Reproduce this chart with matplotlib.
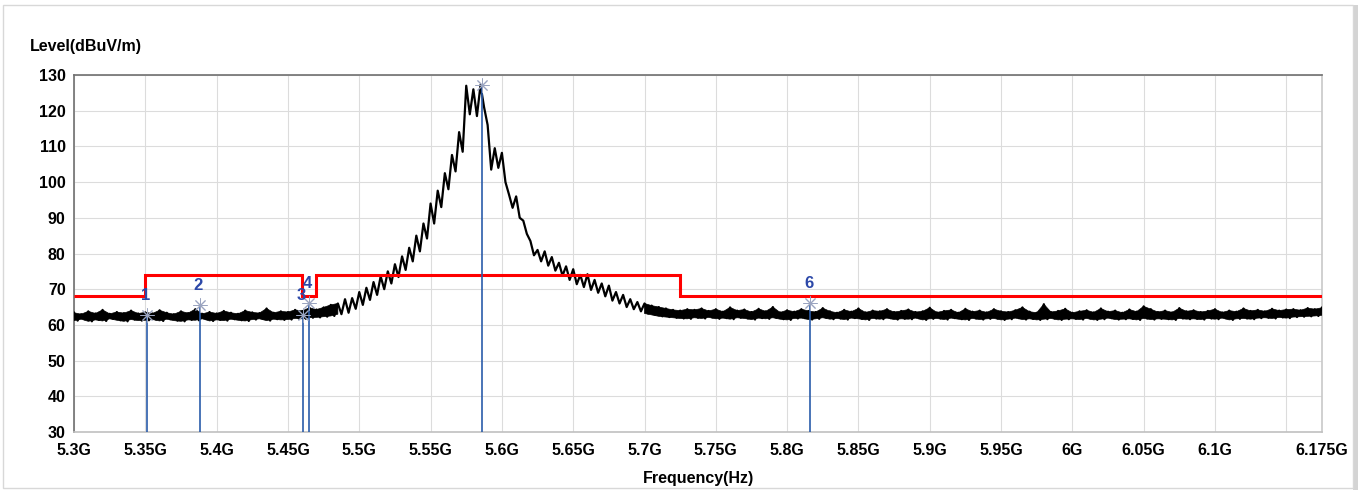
from matplotlib import pyplot as plt
from matplotlib.patches import Rectangle
import numpy as np

# sweep 5.3 GHz .. 6.175 GHz, one hi/lo pair of readings every 5 MHz
freq_start = 5.3
freq_step = 0.005

level_hi = [
    63.4, 63.0, 63.8, 63.2, 64.2, 63.1, 63.6, 63.3, 64.0, 63.2,
    63.5, 63.2, 64.1, 63.4, 63.0, 63.8, 63.3, 64.4, 63.1, 63.6,
    63.2, 63.9, 63.4, 63.1, 64.0, 63.5, 63.3, 64.6, 63.4, 63.8,
    63.6, 64.2, 63.9, 64.8, 64.3,
    64.9, 65.6, 66.0, 67.2, 67.5, 69.2, 70.4, 72.0, 73.6, 75.0,
    77.0, 79.2, 81.6, 85.0, 88.4, 94.0, 97.6, 102.5, 107.6, 114.0,
    127.0, 126.0, 127.2, 116.0, 109.5, 108.2, 96.5, 96.0, 89.2, 83.5,
    81.0, 80.6, 79.0, 77.4, 76.4, 75.6, 74.0, 74.2, 72.6, 71.6,
    71.0, 69.2, 68.4, 67.2, 66.4, 66.0, 65.4, 65.0, 64.6, 64.2,
    64.0, 64.4,
    64.2, 64.6, 63.9, 64.4, 63.7, 64.9, 64.0, 64.3, 63.6, 64.5,
    63.8, 65.0, 63.5, 64.1, 63.7, 64.4, 63.9, 63.6, 64.7, 63.8,
    63.4, 64.2, 63.7, 64.6, 63.5, 64.0, 63.8, 64.4, 63.6, 63.9,
    64.3, 63.6, 63.8, 64.8, 63.5, 63.9, 64.2, 63.4, 64.5, 63.7,
    64.0, 63.5, 64.4, 63.8, 63.6, 64.1, 64.9, 63.7, 63.4, 65.8,
    63.6, 63.9, 64.5, 63.4, 63.8, 64.1, 63.5, 64.6, 63.7, 64.0,
    63.4, 64.3, 63.7, 65.2, 64.4, 63.6, 64.0, 63.5, 64.7, 63.8,
    64.1, 63.6, 63.9, 64.4, 63.5, 64.0, 63.7, 64.6, 63.9, 64.2,
    63.8, 64.5, 64.0, 64.3, 64.4, 64.1, 64.7, 64.4, 64.8,
]

level_lo = [
    61.2, 61.6, 61.0, 61.4, 61.1, 61.7, 61.3, 61.0, 61.5, 61.2,
    61.3, 61.5, 61.1, 61.6, 61.2, 61.0, 61.4, 61.3, 61.7, 61.1,
    61.4, 61.2, 61.6, 61.3, 61.1, 61.5, 61.7, 61.2, 61.6, 61.4,
    61.5, 61.8, 61.7, 62.0, 62.1,
    62.3, 62.5, 63.0, 63.4, 64.5, 65.6, 67.0, 68.4, 70.0, 71.6,
    73.4, 75.4, 77.8, 80.6, 84.2, 88.4, 93.0, 98.0, 103.0, 108.5,
    119.0, 118.5, 121.0, 103.5, 104.0, 100.0, 92.8, 90.0, 85.5, 79.5,
    77.8, 76.6, 75.2, 73.8, 72.6, 71.4, 70.6, 69.8, 69.0, 68.0,
    66.8, 66.0, 65.0, 64.4, 63.8, 63.2, 62.8, 62.4, 62.2, 62.0,
    61.8, 61.7,
    62.0, 61.8, 62.1, 61.7, 61.9, 61.6, 62.0, 61.8, 61.5, 61.9,
    61.7, 62.0, 61.6, 61.4, 61.8, 61.9, 61.5, 61.7, 62.0, 61.6,
    61.8, 61.5, 61.9, 61.7, 61.4, 61.8, 61.6, 61.9, 61.5, 61.7,
    61.6, 61.9, 61.4, 61.7, 61.8, 61.5, 61.9, 61.6, 61.4, 61.8,
    61.5, 61.7, 61.8, 61.4, 61.6, 61.9, 61.5, 61.7, 61.4, 61.6,
    61.8, 61.4, 61.6, 61.7, 61.5, 61.8, 61.4, 61.6, 61.9, 61.5,
    61.6, 61.7, 61.4, 61.8, 61.5, 61.7, 61.6, 61.4, 61.8, 61.6,
    61.7, 61.5, 61.8, 61.6, 61.9, 61.4, 61.7, 61.8, 61.6, 61.9,
    62.0, 61.8, 62.1, 61.9, 62.2, 62.3, 62.4, 62.5, 62.7,
]

# limit line (restricted band steps)
limit_edges = [5.3, 5.35, 5.46, 5.47, 5.725, 6.175]
limit_levels = [68.2, 74.0, 68.2, 74.0, 68.2]

# markers
marker_freq = [5.351, 5.388, 5.4606, 5.4648, 5.586, 5.816]
marker_level = [62.8, 65.6, 62.8, 66.1, 127.2, 66.1]
marker_names = ['1', '2', '3', '4', '5', '6']

x_ticks = [5.3, 5.35, 5.4, 5.45, 5.5, 5.55, 5.6, 5.65, 5.7, 5.75, 5.8,
           5.85, 5.9, 5.95, 6.0, 6.05, 6.1, 6.175]
x_tick_labels = ['5.3G', '5.35G', '5.4G', '5.45G', '5.5G', '5.55G', '5.6G',
                 '5.65G', '5.7G', '5.75G', '5.8G', '5.85G', '5.9G', '5.95G',
                 '6G', '6.05G', '6.1G', '6.175G']
x_grid = np.arange(5.3, 6.176, 0.05)
y_ticks = list(range(30, 131, 10))


def build_trace():
    f = freq_start + freq_step * np.arange(len(level_hi))
    x = np.empty(2 * len(f))
    y = np.empty(2 * len(f))
    x[0::2] = f
    x[1::2] = f + freq_step / 2
    y[0::2] = level_hi
    y[1::2] = level_lo
    keep = x <= 6.175 + 1e-9
    return f, x[keep], y[keep]


def create_chart():
    plt.rcParams['font.family'] = ['Liberation Sans', 'DejaVu Sans']
    plt.rcParams['font.weight'] = 'bold'

    fig = plt.figure(figsize=(13.61, 4.9), dpi=100, facecolor='white')
    ax = fig.add_axes([0.0544, 0.1184, 0.9169, 0.7285])

    ax.set_xlim(5.3, 6.175)
    ax.set_ylim(30, 130)

    for gx in x_grid:
        ax.axvline(gx, color='#dcdcdc', lw=0.8, zorder=0)
    for gy in y_ticks:
        ax.axhline(gy, color='#dcdcdc', lw=0.8, zorder=0)

    f, x, y = build_trace()
    hi = np.array(level_hi)
    lo = np.array(level_lo)
    # solid band along the noise floor, zig-zag trace on top everywhere
    ax.fill_between(f, lo, hi, where=hi <= 66.0, color='black',
                    lw=0.5, zorder=3)
    ax.plot(x, y, color='black', lw=1.6, zorder=3)

    ax.stairs(limit_levels, limit_edges, baseline=None, color='#ff0000',
              lw=2.2, zorder=4)

    for fm, lv, name in zip(marker_freq, marker_level, marker_names):
        ax.plot([fm, fm], [30, lv], color='#2a5caa', lw=1.2, zorder=5)
        ax.plot(fm, lv, marker=(8, 2, 0), ms=10, mew=0.7, color='#9aa4c0',
                zorder=6)
        ax.text(fm - 0.001, lv + 5.5, name, color='#2c48a8', fontsize=12,
                fontweight='bold', ha='center', va='center', zorder=7,
                clip_on=True)

    ax.set_xticks(x_ticks)
    ax.set_xticklabels(x_tick_labels)
    ax.set_yticks(y_ticks)
    ax.tick_params(axis='both', length=0, labelsize=11.5)
    ax.tick_params(axis='x', pad=8)
    ax.tick_params(axis='y', pad=6)

    ax.spines['left'].set_color('#707070')
    ax.spines['top'].set_color('#707070')
    ax.spines['right'].set_color('#c8c8c8')
    ax.spines['bottom'].set_color('#c0c0c0')
    for s in ax.spines.values():
        s.set_linewidth(1.2)

    fig.text(0.022, 0.906, 'Level(dBuV/m)', fontsize=11.5, fontweight='bold',
             ha='left', va='center')
    fig.text(0.513, 0.024, 'Frequency(Hz)', fontsize=11.5, fontweight='bold',
             ha='center', va='center')

    # panel frame with a soft shadow on the right and bottom
    fig.patches.append(Rectangle((0.994, 0.0), 0.004, 0.99, transform=fig.transFigure,
                                 facecolor='#d4d4d4', edgecolor='none'))
    fig.patches.append(Rectangle((0.002, 0.004), 0.992, 0.986, transform=fig.transFigure,
                                 facecolor='none', edgecolor='#d8d8d8', lw=1.0))

    fig.savefig('out.png', dpi=100, facecolor='white')
    plt.close(fig)


if __name__ == '__main__':
    create_chart()
